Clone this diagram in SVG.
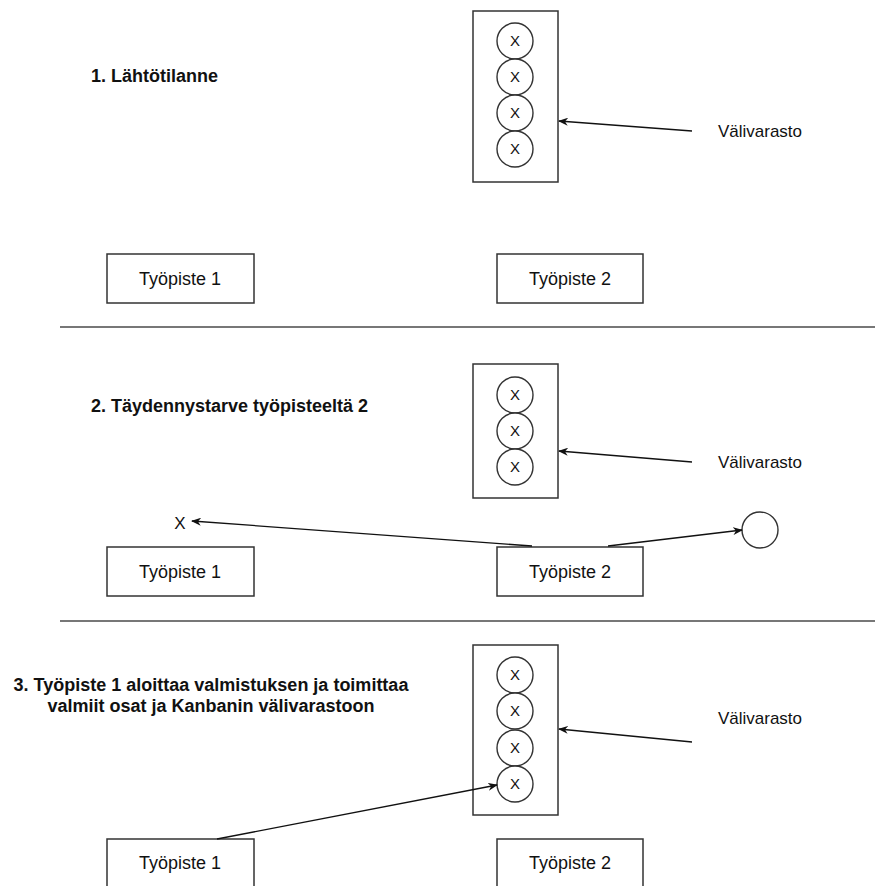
<svg xmlns="http://www.w3.org/2000/svg" width="875" height="886" viewBox="0 0 875 886">
<style>
.box{fill:#fff;stroke:#333;stroke-width:1.5}
.slot{fill:#fff;stroke:#333;stroke-width:1.4}
.lbl{font-family:"Liberation Sans",Arial,sans-serif;font-size:18px;fill:#111;text-anchor:middle}
.side{font-family:"Liberation Sans",Arial,sans-serif;font-size:17px;fill:#111;text-anchor:middle}
.x{font-family:"Liberation Sans",Arial,sans-serif;font-size:15px;fill:#111;text-anchor:middle}
.title{font-family:"Liberation Sans",Arial,sans-serif;font-size:18px;font-weight:bold;fill:#111}
.edge{fill:none;stroke:#111;stroke-width:1.3}
.div{stroke:#777;stroke-width:2}
</style>
<defs>
<marker id="ah" viewBox="0 0 10 8" refX="9" refY="4" markerWidth="10" markerHeight="8" markerUnits="userSpaceOnUse" orient="auto">
<path d="M0,0 L10,4 L0,8 L3,4 z" fill="#111"/>
</marker>
</defs>

<g id="dividers">
<line class="div" x1="60" y1="327" x2="875" y2="327"/>
<line class="div" x1="60" y1="621" x2="875" y2="621"/>
</g>

<!-- Panel 1 -->
<g id="title1"><text class="title" x="91" y="82">1. Lähtötilanne</text></g>
<g id="storage1">
<rect class="box" x="473" y="11" width="85" height="171"/>
<circle class="slot" cx="515" cy="41" r="18"/><text class="x" x="515" y="46">X</text>
<circle class="slot" cx="515" cy="77" r="18"/><text class="x" x="515" y="82">X</text>
<circle class="slot" cx="515" cy="113" r="18"/><text class="x" x="515" y="118">X</text>
<circle class="slot" cx="515" cy="149" r="18"/><text class="x" x="515" y="154">X</text>
</g>
<g id="valivarasto1"><text class="side" x="760" y="137">Välivarasto</text></g>
<g id="tp1a"><rect class="box" x="107" y="254" width="147" height="49"/><text class="lbl" x="180" y="285">Työpiste 1</text></g>
<g id="tp2a"><rect class="box" x="497" y="254" width="146" height="49"/><text class="lbl" x="570" y="285">Työpiste 2</text></g>

<!-- Panel 2 -->
<g id="title2"><text class="title" x="91" y="412">2. Täydennystarve työpisteeltä 2</text></g>
<g id="storage2">
<rect class="box" x="473" y="364" width="85" height="134"/>
<circle class="slot" cx="515" cy="395" r="18"/><text class="x" x="515" y="400">X</text>
<circle class="slot" cx="515" cy="431" r="18"/><text class="x" x="515" y="436">X</text>
<circle class="slot" cx="515" cy="467" r="18"/><text class="x" x="515" y="472">X</text>
</g>
<g id="valivarasto2"><text class="side" x="760" y="468">Välivarasto</text></g>
<g id="xmark"><text class="side" x="180" y="529">X</text></g>
<g id="kanban"><circle class="slot" cx="760" cy="530" r="18"/></g>
<g id="tp1b"><rect class="box" x="107" y="547" width="147" height="49"/><text class="lbl" x="180" y="578">Työpiste 1</text></g>
<g id="tp2b"><rect class="box" x="497" y="547" width="146" height="49"/><text class="lbl" x="570" y="578">Työpiste 2</text></g>

<!-- Panel 3 -->
<g id="title3">
<text class="title" x="211" y="691" text-anchor="middle">3. Työpiste 1 aloittaa valmistuksen ja toimittaa</text>
<text class="title" x="211" y="712" text-anchor="middle">valmiit osat ja Kanbanin välivarastoon</text>
</g>
<g id="storage3">
<rect class="box" x="473" y="645" width="85" height="170"/>
<circle class="slot" cx="515" cy="675" r="18"/><text class="x" x="515" y="680">X</text>
<circle class="slot" cx="515" cy="711" r="18"/><text class="x" x="515" y="716">X</text>
<circle class="slot" cx="515" cy="748" r="18"/><text class="x" x="515" y="753">X</text>
<circle class="slot" cx="515" cy="784" r="18"/><text class="x" x="515" y="789">X</text>
</g>
<g id="valivarasto3"><text class="side" x="760" y="724">Välivarasto</text></g>
<g id="tp1c"><rect class="box" x="107" y="839" width="147" height="49"/><text class="lbl" x="180" y="869">Työpiste 1</text></g>
<g id="tp2c"><rect class="box" x="497" y="839" width="146" height="49"/><text class="lbl" x="570" y="869">Työpiste 2</text></g>

<g id="connectors">
<line class="edge" x1="692" y1="131" x2="559" y2="121" marker-end="url(#ah)"/>
<line class="edge" x1="692" y1="462" x2="559" y2="451" marker-end="url(#ah)"/>
<line class="edge" x1="532" y1="546" x2="192" y2="521" marker-end="url(#ah)"/>
<line class="edge" x1="608" y1="546" x2="742" y2="530" marker-end="url(#ah)"/>
<line class="edge" x1="692" y1="742" x2="559" y2="729" marker-end="url(#ah)"/>
<line class="edge" x1="217" y1="839" x2="497" y2="785" marker-end="url(#ah)"/>
</g>
</svg>
